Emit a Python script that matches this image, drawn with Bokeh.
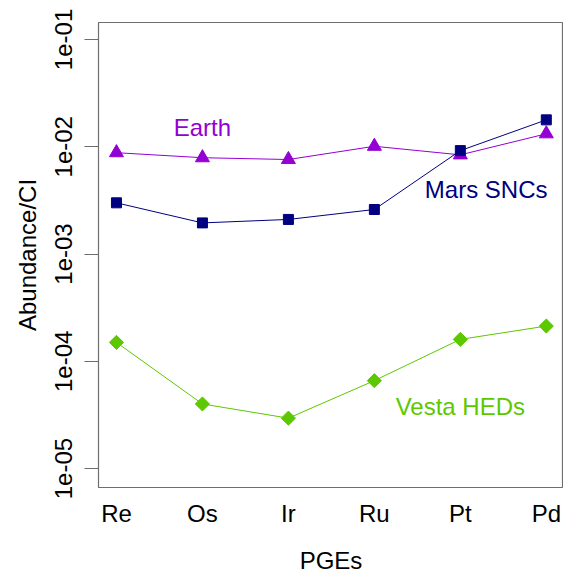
import math
from bokeh.plotting import figure
from bokeh.models import Range1d, FixedTicker
from bokeh.core.properties import value
from bokeh.embed import file_html
from bokeh.resources import INLINE

pges = ["Re", "Os", "Ir", "Ru", "Pt", "Pd"]
earth = [8.8e-3, 7.9e-3, 7.6e-3, 1.01e-2, 8.4e-3, 1.32e-2]
mars = [3.0e-3, 1.95e-3, 2.1e-3, 2.6e-3, 9.2e-3, 1.78e-2]
vesta = [1.5e-4, 4.0e-5, 2.95e-5, 6.6e-5, 1.6e-4, 2.13e-4]
y_ticks = [1e-5, 1e-4, 1e-3, 1e-2, 1e-1]
y_tick_labels = ["1e-05", "1e-04", "1e-03", "1e-02", "1e-01"]
series_names = ["Earth", "Mars SNCs", "Vesta HEDs"]
label_x = [1.0, 4.3, 4.0]
label_y = [0.015, 0.004, 3.8e-5]

FONT = "Liberation Sans"
C_EARTH = "#9400D3"
C_MARS = "#000080"
C_VESTA = "#5CC800"

xs = list(range(len(pges)))

p = figure(width=563, height=576, output_backend="svg", toolbar_location=None,
           y_axis_type="log",
           x_range=Range1d(-0.209, 5.2), y_range=Range1d(6.66e-6, 0.1439),
           min_border_left=98, min_border_top=22, min_border_bottom=88,
           min_border_right=0)
p.background_fill_color = "white"
p.border_fill_color = "white"
p.outline_line_color = "#6e6e6e"
p.outline_line_width = 1.2
p.xgrid.visible = False
p.ygrid.visible = False

# y axis
ya = p.yaxis[0]
ya.ticker = FixedTicker(ticks=y_ticks, minor_ticks=[])
ya.major_label_overrides = {t: s for t, s in zip(y_ticks, y_tick_labels)}
ya.axis_line_color = None
ya.major_tick_in = 0
ya.major_tick_out = 14
ya.major_tick_line_color = "#6e6e6e"
ya.minor_tick_line_color = None
ya.major_label_orientation = "vertical"
ya.major_label_text_font = FONT
ya.major_label_text_font_size = "24px"
ya.major_label_text_color = "black"
ya.major_label_standoff = 12
ya.axis_label = "Abundance/CI"
ya.axis_label_text_font = FONT
ya.axis_label_text_font_size = "24px"
ya.axis_label_text_font_style = "normal"
ya.axis_label_text_color = "black"
ya.axis_label_standoff = 12

# x axis
xa = p.xaxis[0]
xa.ticker = FixedTicker(ticks=xs, minor_ticks=[])
xa.major_label_overrides = {i: n for i, n in zip(xs, pges)}
xa.axis_line_color = None
xa.major_tick_line_color = None
xa.major_tick_out = 0
xa.major_tick_in = 0
xa.minor_tick_line_color = None
xa.major_label_text_font = FONT
xa.major_label_text_font_size = "24px"
xa.major_label_text_color = "black"
xa.major_label_standoff = 12
xa.axis_label = "PGEs"
xa.axis_label_text_font = FONT
xa.axis_label_text_font_size = "24px"
xa.axis_label_text_font_style = "normal"
xa.axis_label_text_color = "black"
xa.axis_label_standoff = 17

# series
p.line(xs, earth, line_color=C_EARTH, line_width=1)
p.scatter(xs, earth, marker="triangle", size=14, fill_color=C_EARTH, line_color=C_EARTH)

p.line(xs, mars, line_color=C_MARS, line_width=1)
p.scatter(xs, mars, marker="square", size=10, fill_color=C_MARS, line_color=C_MARS)

p.line(xs, vesta, line_color=C_VESTA, line_width=1)
p.scatter(xs, vesta, marker="square", angle=math.pi / 4, size=10,
          fill_color=C_VESTA, line_color=C_VESTA)

# series labels
for name, lx, ly, col in zip(series_names, label_x, label_y, [C_EARTH, C_MARS, C_VESTA]):
    p.text(x=[lx], y=[ly], text=[name], text_color=col, text_font=value(FONT),
           text_font_size="24px", text_align="center", text_baseline="middle")

open("out.html", "w").write(file_html(p, INLINE))
